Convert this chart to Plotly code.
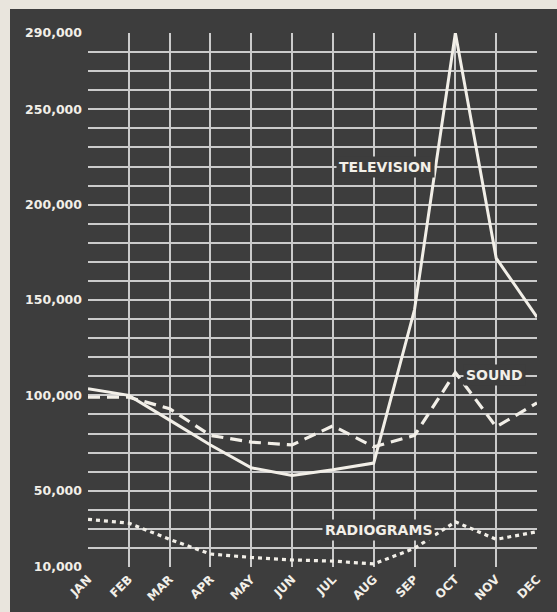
import plotly.graph_objects as go

months = ["JAN", "FEB", "MAR", "APR", "MAY", "JUN", "JUL", "AUG", "SEP", "OCT", "NOV", "DEC"]
television = [103500, 100000, 87000, 74000, 62000, 58000, 61000, 64500, 145000, 290000, 172000, 141000]
sound = [99000, 99000, 93000, 79000, 75500, 74000, 84000, 73000, 79000, 112000, 83500, 96000]
radiograms = [35000, 33000, 24500, 16800, 15000, 13700, 13100, 11600, 19800, 33700, 24500, 28500]
y_tick_values = [10000, 50000, 100000, 150000, 200000, 250000, 290000]
y_tick_labels = ["10,000", "50,000", "100,000", "150,000", "200,000", "250,000", "290,000"]

W, H = 557, 612
ML, MR, MT, MB = 88, 20, 33, 45
PW, PH = W - ML - MR, H - MT - MB

BG = "#3d3d3d"
PAPER = "#e9e5dd"
GRID = "#cbcbcb"
INK = "#f2efe8"

x = list(range(len(months)))

fig = go.Figure()
fig.add_trace(go.Scatter(x=x, y=radiograms, mode="lines", name="Radiograms",
                         line=dict(color=INK, width=3.2, dash="4px,4px"), cliponaxis=False))
fig.add_trace(go.Scatter(x=x, y=sound, mode="lines", name="Sound",
                         line=dict(color=INK, width=3.2, dash="12px,7px"), cliponaxis=False))
fig.add_trace(go.Scatter(x=x, y=television, mode="lines", name="Television",
                         line=dict(color=INK, width=3), cliponaxis=False))

def px_x(p):
    return (p - ML) / PW

def px_y(p):
    return (H - MB - p) / PH

shapes = [
    dict(type="rect", xref="paper", yref="paper", x0=px_x(0), x1=px_x(W), y0=px_y(9), y1=px_y(0),
         fillcolor=PAPER, line=dict(width=0), layer="below"),
    dict(type="rect", xref="paper", yref="paper", x0=px_x(0), x1=px_x(10), y0=px_y(H), y1=px_y(0),
         fillcolor=PAPER, line=dict(width=0), layer="below"),
]

lab_font = dict(family="DejaVu Sans", size=14, color=INK, weight="bold")
annotations = [
    dict(x=7.28, y=219500, text="TELEVISION", showarrow=False, font=lab_font, bgcolor=BG,
         xref="x", yref="y", borderpad=2),
    dict(x=9.95, y=110700, text="SOUND", showarrow=False, font=lab_font, bgcolor=BG,
         xref="x", yref="y", borderpad=2),
    dict(x=7.12, y=29400, text="RADIOGRAMS", showarrow=False, font=lab_font, bgcolor=BG,
         xref="x", yref="y", borderpad=2),
]

fig.update_layout(
    template="none",
    width=W, height=H,
    margin=dict(l=ML, r=MR, t=MT, b=MB, pad=0, autoexpand=False),
    paper_bgcolor=BG, plot_bgcolor=BG,
    showlegend=False,
    shapes=shapes,
    annotations=annotations,
    xaxis=dict(range=[0, 11], tickmode="array", tickvals=x, ticktext=months, tickangle=-45,
               showgrid=True, gridcolor=GRID, gridwidth=2, zeroline=False, showline=False,
               ticks="", automargin=False, ticklabelstandoff=2,
               tickfont=dict(family="DejaVu Sans", size=12, color=INK, weight="bold"),
               fixedrange=True),
    yaxis=dict(range=[10000, 290000], tickmode="array", tickvals=y_tick_values, ticktext=y_tick_labels,
               showgrid=True, gridcolor=GRID, gridwidth=2, zeroline=False, showline=False,
               ticks="", ticklabelstandoff=5, automargin=False,
               tickfont=dict(family="DejaVu Sans", size=12.5, color=INK, weight="bold"),
               minor=dict(tickmode="linear", tick0=10000, dtick=10000, showgrid=True,
                          gridcolor=GRID, gridwidth=2),
               fixedrange=True),
)

fig.write_html(
    "out.html",
    config={"displayModeBar": False},
    post_script="document.body.style.margin='0';document.body.style.padding='0';"
                "document.body.style.overflow='hidden';document.body.style.background='#3d3d3d';",
)
